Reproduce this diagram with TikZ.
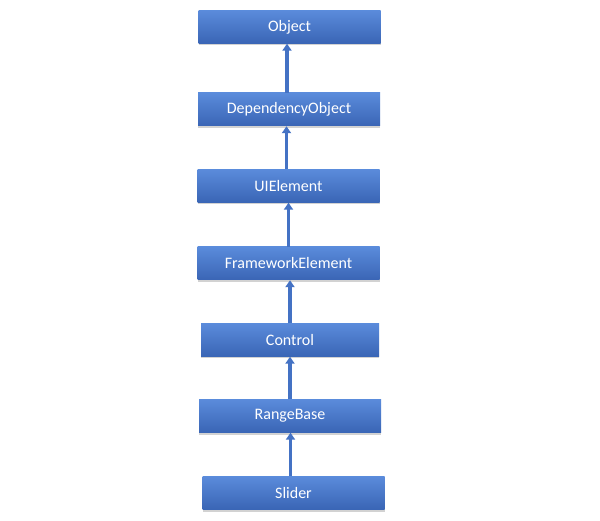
\documentclass[tikz,border=0pt]{standalone}
\usepackage{fontspec}
\setmainfont{Carlito}
\usetikzlibrary{arrows.meta,shadows}
\definecolor{boxblue}{HTML}{4472C4}
\definecolor{boxtop}{HTML}{5A8BDB}
\definecolor{boxbottom}{HTML}{3A65B5}
\tikzset{
  classbox/.style={rectangle,minimum width=182pt,minimum height=33pt,inner sep=0pt,
    top color=boxtop,bottom color=boxbottom,draw=none,text=white,font=\fontsize{16}{18}\selectfont,
    drop shadow={shadow xshift=0pt,shadow yshift=-2pt,fill=black!35,opacity=.5}},
  inherits/.style={draw=boxblue,line width=3.2pt,-{Triangle[length=7pt,width=9pt]}}
}
\begin{document}
\begin{tikzpicture}[x=1pt,y=-1pt]
  \fill[white] (0,0) rectangle (600,521);

  \node[classbox] (Object)            at (289.5,27)  {Object};
  \node[classbox] (DependencyObject)  at (289,109.5) {DependencyObject};
  \node[classbox] (UIElement)         at (288.5,186) {UIElement};
  \node[classbox] (FrameworkElement)  at (288.5,263.5) {FrameworkElement};
  \node[classbox,minimum width=178pt] (Control) at (290,340) {Control};
  \node[classbox] (RangeBase)         at (290,416)   {RangeBase};
  \node[classbox] (Slider)            at (293.5,493) {Slider};

  \draw[inherits] ([xshift=-2pt]DependencyObject.north) -- ([xshift=-2pt]DependencyObject.north |- Object.south);
  \draw[inherits] ([xshift=-2pt]UIElement.north) -- ([xshift=-2pt]UIElement.north |- DependencyObject.south);
  \draw[inherits] (FrameworkElement.north) -- (FrameworkElement.north |- UIElement.south);
  \draw[inherits] (Control.north) -- (Control.north |- FrameworkElement.south);
  \draw[inherits] (RangeBase.north) -- (RangeBase.north |- Control.south);
  \draw[inherits] ([xshift=-3pt]Slider.north) -- ([xshift=-3pt]Slider.north |- RangeBase.south);
\end{tikzpicture}
\end{document}
